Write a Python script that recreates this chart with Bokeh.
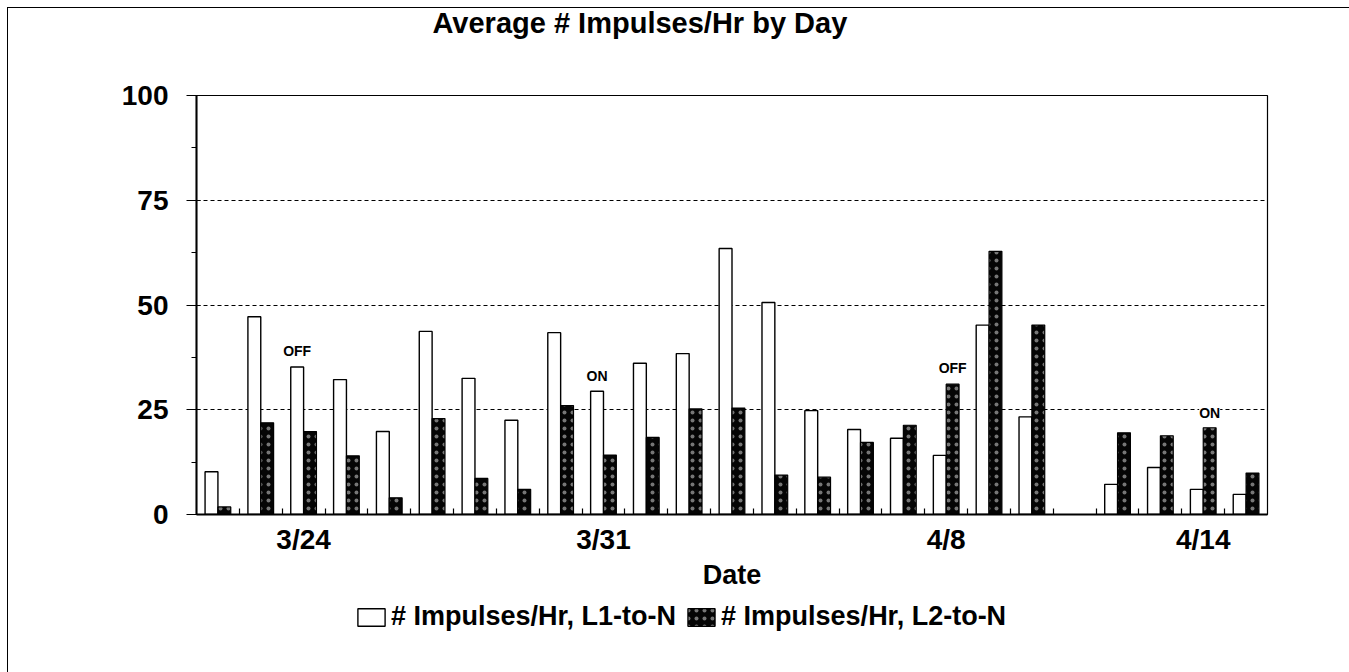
import numpy as np
from bokeh.plotting import figure
from bokeh.layouts import column
from bokeh.models import (ColumnDataSource, FixedTicker, Range1d, Legend, LegendItem,
                          LabelSet, Title)
from bokeh.transform import dodge
from bokeh.core.properties import value
from bokeh.embed import file_html
from bokeh.resources import INLINE

# ---------------- data ----------------
title_text = "Average # Impulses/Hr by Day"
x_title = "Date"
series_names = ["# Impulses/Hr, L1-to-N", "# Impulses/Hr, L2-to-N"]
day_labels = ["3/22", "3/23", "3/24", "3/25", "3/26", "3/27", "3/28", "3/29", "3/30", "3/31",
              "4/1", "4/2", "4/3", "4/4", "4/5", "4/6", "4/7", "4/8", "4/9", "4/10",
              "4/11", "4/12", "4/13", "4/14", "4/15"]
l1_to_n = [10.2, 47.2, 35.2, 32.2, 19.8, 43.7, 32.5, 22.5, 43.4, 29.4,
           36.1, 38.4, 63.5, 50.6, 24.8, 20.3, 18.2, 14.1, 45.2, 23.3,
           None, 7.2, 11.2, 6.0, 4.8]
l2_to_n = [1.8, 21.9, 19.8, 14.0, 4.0, 22.9, 8.6, 6.0, 26.0, 14.2,
           18.4, 25.2, 25.4, 9.4, 8.9, 17.2, 21.3, 31.1, 62.8, 45.2,
           None, 19.5, 18.8, 20.7, 9.9]
labeled_days = ["3/24", "3/31", "4/8", "4/14"]
y_ticks = [0, 25, 50, 75, 100]
y_minor_ticks = [12.5, 37.5, 62.5, 87.5]
note_days = ["3/24", "3/31", "4/8", "4/14"]
note_texts = ["OFF", "ON", "OFF", "ON"]
note_series = ["L1", "L1", "L2", "L2"]
note_levels = [39.0, 33.1, 34.9, 24.2]

# ---------------- styling ----------------
FONT = "Liberation Sans"
BAR_W = 0.3
WHITE_BAR = dict(fill_color="white", line_color="black", line_width=1.4)
DARK_BAR = dict(fill_color="#050505", line_color="black", line_width=1.2,
                hatch_pattern="dot", hatch_color="white", hatch_scale=8,
                hatch_weight=0.8, hatch_alpha=0.45)

xs = list(range(1, len(day_labels) + 1))
v1 = [np.nan if v is None else v for v in l1_to_n]
v2 = [np.nan if v is None else v for v in l2_to_n]
src = ColumnDataSource(dict(x=xs, l1=v1, l2=v2, day=day_labels))

p = figure(width=1349, height=592, output_backend="svg", toolbar_location=None,
           x_range=Range1d(0.5, len(day_labels) + 0.5), y_range=Range1d(0, 100),
           min_border_left=196, min_border_right=82, min_border_top=95,
           min_border_bottom=75)
p.background_fill_color = "white"
p.border_fill_alpha = 0
p.outline_line_color = "black"
p.outline_line_width = 1.2

r1 = p.vbar(x=dodge("x", -BAR_W / 2), top="l1", width=BAR_W, source=src, **WHITE_BAR)
r2 = p.vbar(x=dodge("x", BAR_W / 2), top="l2", width=BAR_W, source=src, **DARK_BAR)

# notes
note_x = [day_labels.index(d) + 1 + (-BAR_W / 2 if s == "L1" else BAR_W / 2)
          for d, s in zip(note_days, note_series)]
nsrc = ColumnDataSource(dict(x=note_x, y=note_levels, t=note_texts))
p.add_layout(LabelSet(x="x", y="y", text="t", source=nsrc, text_align="center",
                      text_baseline="middle", text_font=value(FONT),
                      text_font_size=value("14px"), text_font_style="bold",
                      text_color="black", background_fill_color="white"))

# x axis
tick_x = [day_labels.index(d) + 1 for d in labeled_days]
p.xaxis.ticker = FixedTicker(ticks=tick_x,
                             minor_ticks=[i + 0.5 for i in range(1, len(day_labels))])
p.xaxis.major_label_overrides = {t: d for t, d in zip(tick_x, labeled_days)}
p.xaxis.major_tick_in = 0
p.xaxis.major_tick_out = 0
p.xaxis.minor_tick_in = 6
p.xaxis.minor_tick_out = 0
p.xaxis.minor_tick_line_color = "black"
p.xaxis.minor_tick_line_width = 1.2
p.xaxis.major_label_standoff = 9
p.xaxis.axis_label = x_title
p.xaxis.axis_label_standoff = 2

# y axis
p.yaxis.ticker = FixedTicker(ticks=y_ticks, minor_ticks=y_minor_ticks)
p.yaxis.major_tick_in = 4
p.yaxis.major_tick_out = 10
p.yaxis.minor_tick_in = 0
p.yaxis.minor_tick_out = 5
p.yaxis.major_tick_line_color = "black"
p.yaxis.minor_tick_line_color = "black"
p.yaxis.major_label_standoff = 18

for ax in (p.xaxis[0], p.yaxis[0]):
    ax.axis_line_color = "black"
    ax.axis_line_width = 2
    ax.major_label_text_font = FONT
    ax.major_label_text_font_size = "28px"
    ax.major_label_text_font_style = "bold"
    ax.major_label_text_color = "black"
    ax.axis_label_text_font = FONT
    ax.axis_label_text_font_size = "27px"
    ax.axis_label_text_font_style = "bold"
    ax.axis_label_text_color = "black"

p.xgrid.visible = False
p.ygrid.grid_line_color = "black"
p.ygrid.grid_line_dash = "4 3"
p.ygrid.grid_line_width = 1.2

# title: spacer next to the frame, real title above it
p.add_layout(Title(text=" ", text_font_size="10px", standoff=42), "above")
p.add_layout(Title(text=title_text, align="left", offset=236, vertical_align="top",
                   standoff=0, text_font=FONT, text_font_size="29px",
                   text_font_style="bold", text_color="black"), "above")

# legend strip under the chart (its key renderers are hidden; only the keys show)
lg = figure(width=1349, height=80, output_backend="svg", toolbar_location=None,
            x_axis_type=None, y_axis_type=None, min_border=0,
            x_range=Range1d(0.5, len(day_labels) + 0.5), y_range=Range1d(0, 100))
lg.grid.visible = False
lg.outline_line_color = None
lg.background_fill_alpha = 0
lg.border_fill_alpha = 0
k1 = lg.vbar(x=dodge("x", -BAR_W / 2), top="l1", width=BAR_W, source=src,
             visible=False, **WHITE_BAR)
k2 = lg.vbar(x=dodge("x", BAR_W / 2), top="l2", width=BAR_W, source=src,
             visible=False, **DARK_BAR)
legend = Legend(items=[LegendItem(label=series_names[0], renderers=[k1]),
                       LegendItem(label=series_names[1], renderers=[k2])],
                location=(158, 40), orientation="horizontal",
                glyph_width=34, glyph_height=22, label_standoff=3, spacing=8,
                padding=0, margin=0, border_line_color=None,
                background_fill_alpha=0, inactive_fill_alpha=0,
                label_text_font=FONT, label_text_font_size="27px",
                label_text_font_style="bold", label_text_color="black")
lg.add_layout(legend)

page = column(p, lg, spacing=0, styles={
    "background-image": "linear-gradient(black, black), linear-gradient(black, black)",
    "background-size": "1px 100%, 100% 1px",
    "background-position": "7px 7px, 7px 7px",
    "background-repeat": "no-repeat"})

open("out.html", "w").write(file_html(page, INLINE))
